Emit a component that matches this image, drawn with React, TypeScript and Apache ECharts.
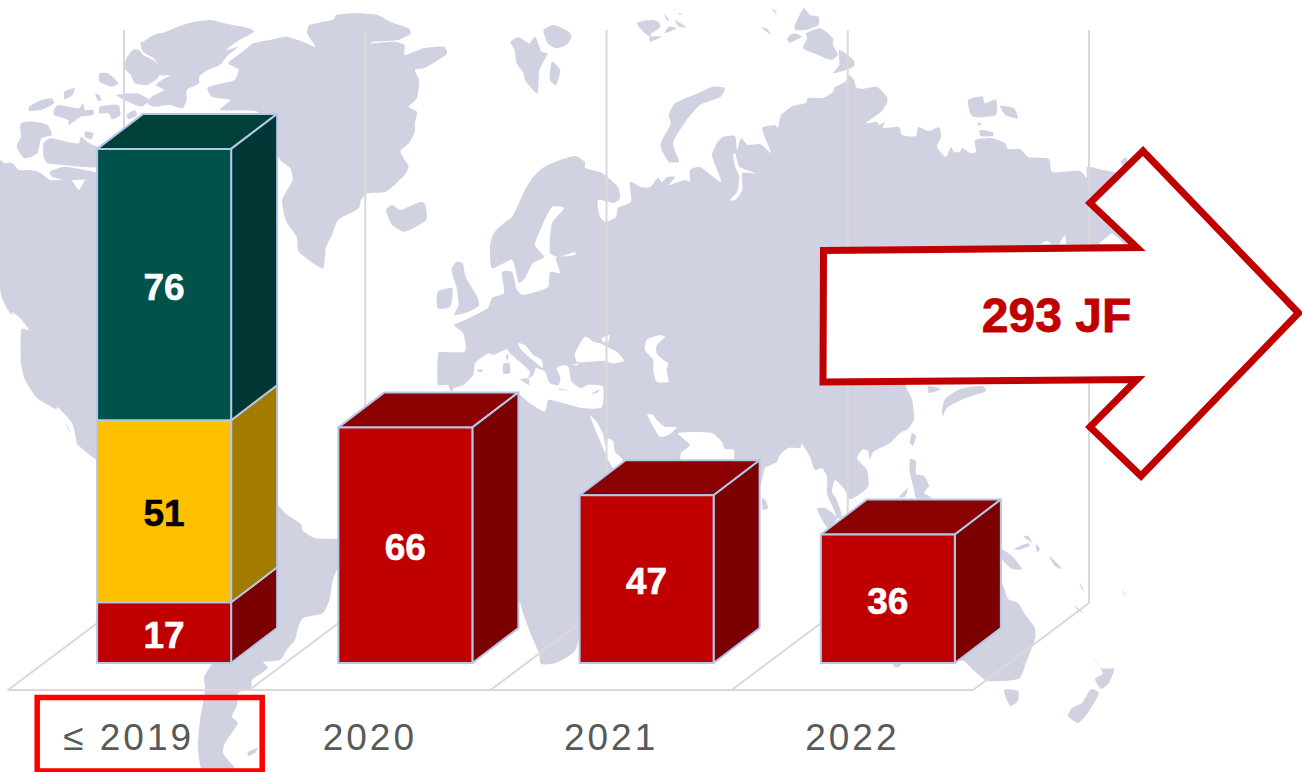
import React, { useEffect, useRef } from "react";
import * as echarts from "echarts";

// Filings per priority year
const categories = ["≤ 2019", "2020", "2021", "2022"];
const redValues = [17, 66, 47, 36];
const yellowValues = [51, 0, 0, 0];
const greenValues = [76, 0, 0, 0];
const totalLabel = "293 JF";

const FONT = '"Liberation Sans", Arial, sans-serif';
const LAND = "#D0D2E2";
const WALL = "#D9D9D9";
const EDGE = "#B4C7E7";

type Pt = number[];
const sheet = (ox: number, oy: number, sx: number, sy: number, pts: Pt[]): Pt[] =>
  pts.map(([x, y]) => [ox + x / sx, oy + y / sy]);
const west = (pts: Pt[]) => sheet(0, 0, 2.41, 3, pts);
const east = (pts: Pt[]) => sheet(650, 0, 2.405, 3, pts);
const midSea = (pts: Pt[]) => sheet(430, 320, 3, 3, pts);

// Eurasia and Africa as one outline; seas are cut out afterwards
const eurasiaAfrica: Pt[] = [
  [453, 392], [450, 390], [448, 385], [438, 385], [438, 353], [440, 352], [464, 352], [466, 347], [463, 333],
  [454, 325], [465, 320], [488, 308], [492, 298], [504, 293], [502, 272], [512, 272], [517, 290], [523, 295],
  [548, 287], [550, 272], [560, 273], [556, 258], [575, 255], [575, 252], [558, 257], [550, 253], [552, 223],
  [564, 208], [552, 207], [539, 233], [535, 245], [544, 257], [533, 263], [525, 278], [519, 283], [512, 260],
  [492, 268], [490, 245], [494, 233], [504, 223], [512, 217], [525, 190], [533, 177], [544, 167], [560, 160],
  [575, 156], [585, 162], [585, 168], [602, 173], [618, 187], [620, 198], [614, 203], [598, 200], [600, 217],
  [606, 222], [616, 217], [618, 208], [631, 202], [630, 182], [641, 187], [650, 187], [658, 178], [662, 182],
  [667, 177], [675, 177], [669, 185], [685, 180], [690, 182], [690, 170], [700, 167], [721, 182], [712, 155],
  [717, 143], [723, 137], [735, 136], [737, 150], [741, 138], [748, 145], [760, 144], [771, 153], [762, 128],
  [775, 125], [778, 128], [781, 115], [793, 106], [806, 103], [808, 98], [823, 98], [833, 92], [835, 87],
  [845, 82], [849, 75], [854, 80], [856, 87], [862, 89], [877, 87], [887, 97], [887, 103], [881, 112],
  [866, 123], [877, 122], [879, 125], [885, 122], [883, 128], [899, 127], [902, 135], [916, 136], [918, 127],
  [929, 131], [939, 127], [941, 137], [937, 147], [946, 157], [951, 147], [954, 152], [960, 152], [962, 148],
  [970, 153], [976, 152], [975, 140], [991, 138], [1005, 143], [1008, 149], [1020, 149], [1028, 157], [1049, 159],
  [1052, 172], [1080, 171], [1087, 178], [1087, 167], [1103, 170], [1120, 173], [1125, 175], [1125, 300],
  [906, 320], [906, 386], [912, 399], [914, 419], [908, 429], [900, 433], [890, 443], [873, 452], [870, 460],
  [868, 451], [863, 449], [857, 458], [867, 470], [868, 487], [852, 499], [848, 498], [845, 490], [835, 480],
  [832, 492], [836, 498], [842, 517], [837, 518], [835, 512], [828, 497], [827, 493], [827, 477], [822, 468],
  [815, 470], [810, 457], [802, 444], [800, 448], [788, 448], [780, 455], [777, 462], [765, 468], [762, 480],
  [758, 490], [740, 500], [734, 460], [734, 450], [725, 449], [722, 442], [712, 433], [678, 433], [690, 445],
  [681, 453], [680, 460], [650, 520], [600, 600], [582, 626], [575, 651], [556, 663], [541, 664], [539, 653],
  [531, 635], [523, 613], [518, 600], [472, 600],
];

const northAmerica: Pt[] = [
  [0, 160], [4, 163], [12, 163], [19, 170], [29, 170], [39, 172], [50, 180], [58, 180], [71, 180], [79, 190],
  [87, 177], [97, 177], [120, 300], [120, 520], [96, 460], [91, 456], [77, 444], [68, 429], [58, 411], [50, 406],
  [37, 398], [25, 380], [21, 363], [21, 330], [23, 328], [18, 318], [10, 313], [2, 298], [0, 287],
];

const southAmerica: Pt[] = [
  [278, 506], [286, 514], [301, 524], [303, 531], [315, 538], [336, 539], [345, 540], [345, 565], [337, 570],
  [332, 583], [330, 598], [323, 613], [303, 618], [298, 628], [295, 640], [288, 648], [280, 660], [263, 662],
  [268, 668], [252, 680], [251, 688], [238, 693], [237, 705], [232, 717], [238, 723], [225, 743], [223, 753],
  [235, 768], [237, 772], [203, 772], [198, 747], [200, 720], [203, 703], [205, 687], [204, 677], [212, 663],
  [230, 600], [260, 510],
];

const greenland: Pt[] = west([
  [810, 45], [860, 40], [910, 45], [940, 65], [985, 85], [990, 100], [960, 120], [900, 125], [890, 130], [950, 125],
  [975, 135], [975, 165], [1020, 145], [1070, 140], [1078, 160], [1050, 185], [1020, 205], [1000, 210], [1010, 240],
  [1005, 295], [985, 320], [1005, 335], [1000, 370], [1000, 395], [985, 430], [965, 455], [985, 500], [975, 525],
  [930, 575], [885, 580], [870, 600], [865, 625], [815, 660], [800, 705], [785, 745], [778, 805], [720, 755],
  [715, 710], [690, 665], [680, 600], [705, 540], [700, 505], [675, 480], [650, 400], [620, 335], [530, 330],
  [555, 300], [510, 290], [500, 262], [565, 240], [575, 208], [550, 190], [590, 150], [610, 130], [650, 120],
  [690, 110], [730, 125], [760, 140], [740, 100], [745, 75], [770, 68], [805, 58],
]);

const westIslands: Pt[][] = [
  // Arctic archipelago
  [[345, 125], [370, 105], [400, 95], [440, 75], [470, 65], [510, 60], [540, 70], [600, 85], [612, 95], [570, 125], [545, 150], [575, 140], [550, 165], [530, 195], [500, 210], [480, 230], [480, 250], [450, 270], [450, 300], [440, 325], [410, 315], [370, 320], [355, 310], [365, 290], [395, 270], [375, 255], [390, 240], [410, 225], [385, 225], [375, 180], [345, 155], [338, 128]],
  [[320, 150], [335, 150], [345, 165], [375, 185], [385, 215], [380, 235], [355, 255], [325, 250], [315, 225], [300, 205], [305, 175]],
  [[240, 220], [260, 220], [285, 250], [270, 260], [240, 245]],
  [[280, 285], [330, 280], [360, 300], [340, 320], [300, 300]],
  [[155, 275], [180, 265], [175, 285], [155, 298]],
  [[230, 282], [240, 285], [244, 303], [235, 300]],
  [[240, 320], [285, 315], [290, 345], [270, 358], [262, 340], [240, 340]],
  [[305, 345], [325, 330], [330, 345], [310, 358]],
  [[70, 320], [100, 300], [125, 295], [130, 310], [100, 330], [70, 332]],
  [[130, 330], [140, 315], [190, 325], [200, 310], [205, 330], [225, 330], [225, 345], [195, 350], [165, 375], [165, 360], [130, 345]],
  [[50, 370], [85, 365], [115, 375], [125, 405], [100, 415], [90, 460], [60, 475], [40, 440], [50, 410]],
  [[105, 430], [120, 415], [160, 425], [190, 430], [195, 410], [215, 430], [240, 445], [240, 500], [150, 495], [115, 490], [105, 470]],
  [[205, 395], [225, 400], [220, 418], [205, 412]],
  [[120, 515], [155, 500], [240, 520], [240, 535], [160, 540], [125, 530]],
  // Iceland
  [[930, 630], [945, 615], [965, 630], [985, 620], [1015, 605], [1025, 615], [1027, 660], [975, 695], [945, 675], [935, 650]],
  // Svalbard
  [[1230, 125], [1250, 112], [1275, 130], [1290, 110], [1305, 155], [1320, 160], [1300, 210], [1295, 280], [1265, 240], [1262, 220], [1245, 190], [1240, 150]],
  [[1310, 90], [1335, 75], [1370, 95], [1378, 110], [1365, 135], [1340, 145], [1320, 130]],
  [[1330, 185], [1350, 210], [1340, 255], [1325, 240]],
  [[1535, 70], [1565, 62], [1568, 110], [1550, 95]],
  // British Isles
  [[1100, 785], [1115, 790], [1122, 830], [1150, 890], [1155, 915], [1130, 935], [1095, 945], [1105, 915], [1100, 860], [1088, 810]],
  [[1055, 875], [1090, 865], [1085, 920], [1055, 925]],
];

const eastIslands: Pt[][] = [
  [[25, 435], [50, 370], [45, 345], [60, 310], [115, 280], [150, 260], [180, 265], [170, 290], [120, 315], [85, 365], [55, 430], [70, 485], [45, 485]],
  [[0, 60], [20, 65], [25, 80], [10, 95], [0, 100]],
  [[45, 80], [65, 85], [35, 100]],
  [[60, 60], [88, 82], [70, 80]],
  [[0, 110], [28, 110], [0, 125]],
  [[35, 42], [47, 62], [40, 60]],
  [[70, 38], [78, 44], [70, 44]],
  [[370, 25], [385, 45], [405, 50], [405, 75], [375, 90], [350, 90], [347, 80]],
  [[330, 115], [345, 100], [365, 110], [335, 128]],
  [[268, 82], [280, 85], [292, 105]],
  [[292, 25], [300, 30], [305, 45]],
  [[375, 100], [410, 85], [440, 115], [440, 135], [452, 165], [435, 180], [405, 165], [368, 145], [378, 115]],
  [[455, 150], [490, 180], [490, 200], [440, 220], [455, 195]],
  [[765, 300], [800, 290], [805, 310], [832, 298], [832, 345], [780, 352], [770, 340]],
  [[842, 318], [875, 325], [885, 355], [855, 345]],
  [[790, 365], [798, 375], [788, 375]],
  [[793, 390], [825, 397], [825, 408], [795, 408]],
  [[1132, 485], [1145, 472], [1150, 490], [1140, 500]],
];

// Pacific, South-East Asia and the southern oceans
const pacificIslands: Pt[][] = [
  [[928, 386], [929, 393], [941, 389]],
  [[945, 399], [960, 389], [983, 386], [986, 391], [966, 398], [953, 404], [946, 409], [943, 416], [942, 411]],
  [[912, 433], [916, 436], [913, 446], [910, 443]],
  [[910, 459], [916, 461], [916, 474], [924, 476], [929, 486], [924, 493], [932, 498], [916, 498], [914, 489], [910, 474]],
  [[899, 497], [908, 488], [905, 497]],
  [[817, 509], [825, 508], [837, 518], [828, 528]],
  [[762, 498], [766, 501], [768, 508], [763, 510]],
  [[1001, 549], [1012, 556], [1022, 569], [1012, 569], [1001, 558]],
  [[1014, 549], [1028, 543], [1030, 546], [1018, 550]],
  [[1023, 536], [1028, 536], [1032, 543]],
  [[1036, 544], [1040, 549], [1037, 552]],
  [[1049, 556], [1055, 561], [1062, 569], [1055, 566]],
  [[1080, 583], [1084, 591], [1081, 588]],
  [[1122, 589], [1127, 597], [1124, 594]],
  [[1074, 605], [1084, 613], [1078, 610]],
  [[1001, 583], [1008, 599], [1018, 603], [1024, 613], [1035, 628], [1035, 639], [1026, 663], [1020, 678], [1005, 681], [997, 681], [987, 681], [972, 669], [964, 661], [954, 661], [930, 600]],
  [[893, 664], [901, 664], [899, 667], [895, 667]],
  [[1004, 690], [1018, 691], [1018, 701], [1010, 706]],
  [[1091, 654], [1101, 668], [1114, 669], [1109, 683], [1101, 689], [1095, 679], [1103, 673]],
  [[1091, 689], [1099, 693], [1087, 714], [1078, 723], [1068, 716], [1072, 708], [1082, 703]],
  [[248, 752], [258, 748], [255, 753], [248, 756]],
];

// Inland and marginal seas laid over the continents
const seas: Pt[][] = [
  midSea([[70, 216], [70, 205], [100, 195], [130, 165], [135, 130], [175, 100], [190, 105], [230, 88], [240, 100], [300, 155], [295, 175], [310, 165], [318, 145], [345, 155], [360, 190], [385, 195], [392, 175], [380, 145], [400, 135], [415, 140], [425, 185], [455, 205], [470, 195], [500, 195], [520, 200], [515, 262], [460, 265], [400, 250], [355, 240], [345, 275], [300, 250], [265, 220], [265, 216]]),
  midSea([[265, 70], [285, 75], [310, 105], [335, 120], [338, 145], [320, 130], [290, 105], [270, 85]]),
  midSea([[465, 50], [490, 65], [510, 70], [530, 80], [560, 95], [582, 122], [550, 130], [520, 122], [480, 125], [440, 125], [435, 100]]),
  midSea([[515, 55], [538, 45], [535, 65], [518, 65]]),
  midSea([[428, 135], [445, 130], [442, 136]]),
  midSea([[650, 60], [690, 45], [705, 50], [680, 75], [680, 100], [700, 120], [715, 130], [710, 150], [715, 185], [680, 185], [670, 150], [670, 120], [645, 90]]),
  midSea([[652, 283], [670, 285], [680, 300], [705, 320], [740, 322], [715, 345], [690, 350], [670, 320]]),
  midSea([[480, 288], [500, 305], [520, 345], [526, 375], [535, 355], [550, 365], [555, 395], [578, 420], [552, 447], [535, 420]]),
  east([[205, 460], [215, 500], [255, 520], [222, 520], [222, 570], [205, 600], [192, 600], [210, 575], [215, 530], [205, 500], [200, 465]]),
  east([[940, 732], [955, 722], [965, 732]]),
  east([[985, 732], [998, 705], [1000, 732]]),
  east([[1080, 732], [1105, 705], [1110, 700], [1140, 732]]),
  // Gulf of California
  [[57, 407], [72, 423], [77, 445], [74, 443], [68, 427], [58, 417]],
  // Strait of Georgia inlet
  [[12, 312], [20, 318], [29, 330], [22, 328], [17, 322]],
];

// Islands that sit inside the seas
const seaIslands: Pt[][] = [
  midSea([[220, 132], [238, 130], [240, 160], [220, 160]]),
  midSea([[228, 105], [236, 105], [232, 125]]),
  midSea([[140, 150], [160, 150], [150, 157]]),
  midSea([[270, 178], [295, 175], [298, 195]]),
  midSea([[385, 205], [415, 212], [390, 210]]),
  midSea([[485, 220], [510, 208], [500, 220]]),
];

const land = (pts: Pt[], fill: string = LAND) => ({
  type: "polygon",
  silent: true,
  z: 0,
  shape: { points: pts, smooth: 0.2 },
  style: { fill, stroke: "none" },
});

// Box drawn as a front face plus receding top and side
const FACE_WIDTH = 134;
const DEPTH_X = 46;
const DEPTH_Y = 35;
const INSET_X = 35.5;
const INSET_Y = 27;

const boxRenderer = (front: string, side: string, top: string, labelColor: string) => (params: any, api: any) => {
  const i = api.value(0);
  const from = api.coord([i, api.value(1)]);
  const to = api.coord([i, api.value(2)]);
  const l = from[0] + INSET_X - FACE_WIDTH / 2;
  const r = l + FACE_WIDTH;
  const b = from[1] - INSET_Y;
  const t = to[1] - INSET_Y;
  const edge = { stroke: EDGE, lineWidth: 2, lineJoin: "round" };
  return {
    type: "group",
    children: [
      { type: "polygon", shape: { points: [[l, t], [l + DEPTH_X, t - DEPTH_Y], [r + DEPTH_X, t - DEPTH_Y], [r, t]] }, style: { fill: top, ...edge } },
      { type: "polygon", shape: { points: [[r, t], [r + DEPTH_X, t - DEPTH_Y], [r + DEPTH_X, b - DEPTH_Y], [r, b]] }, style: { fill: side, ...edge } },
      { type: "rect", shape: { x: l, y: t, width: FACE_WIDTH, height: b - t }, style: { fill: front, ...edge } },
      {
        type: "text",
        style: {
          text: String(api.value(2) - api.value(1)),
          x: (l + r) / 2,
          y: (t + b) / 2 + 2.5,
          fill: labelColor,
          stroke: labelColor,
          lineWidth: 0.6,
          fontFamily: FONT,
          fontWeight: "bold",
          fontSize: 37,
          align: "center",
          verticalAlign: "middle",
        },
      },
    ],
  };
};

const stackSeries = (name: string, values: number[], under: number[], colors: string[]) => ({
  type: "custom",
  name,
  coordinateSystem: "cartesian2d",
  clip: false,
  z: 3,
  encode: { x: 0, y: [1, 2] },
  renderItem: boxRenderer(colors[0], colors[1], colors[2], colors[3]),
  data: values
    .map((v, i) => [i, under[i], under[i] + v])
    .filter((d) => d[2] > d[1]),
});

// Floor diagonals and back-wall verticals at each band edge
const renderWalls = (params: any, api: any) => {
  const sys = params.coordSys;
  const x0 = sys.x + (api.value(0) * sys.width) / categories.length;
  const yFloor = sys.y + sys.height;
  const backX = x0 + 116;
  const backY = yFloor - 87;
  return {
    type: "polyline",
    shape: { points: [[x0, yFloor], [backX, backY], [backX, 30]] },
    style: { fill: "none", stroke: WALL, lineWidth: 2 },
  };
};

export default function App() {
  const ref = useRef<HTMLDivElement>(null);

  useEffect(() => {
    document.body.style.margin = "0";
    const chart = echarts.init(ref.current!, undefined, { renderer: "svg" });
    const yellowBase = redValues;
    const greenBase = redValues.map((v, i) => v + yellowValues[i]);
    chart.setOption({
      animation: false,
      backgroundColor: "#FFFFFF",
      grid: { left: 8, width: 965, top: 154.5, height: 535.5 },
      xAxis: {
        type: "category",
        data: categories,
        axisTick: { show: false },
        axisLine: { lineStyle: { color: WALL, width: 2 } },
        axisLabel: { color: "#595959", fontFamily: FONT, fontSize: 37, margin: 29, interval: 0 },
      },
      yAxis: { type: "value", min: 0, max: 150, show: false, splitLine: { show: false } },
      graphic: {
        elements: [
          land(northAmerica),
          land(southAmerica),
          land(greenland),
          land(eurasiaAfrica),
          ...westIslands.map((p) => land(west(p))),
          ...eastIslands.map((p) => land(east(p))),
          ...pacificIslands.map((p) => land(p)),
          ...seas.map((p) => land(p, "#FFFFFF")),
          ...seaIslands.map((p) => land(p)),
          {
            type: "rect",
            z: 20,
            silent: true,
            shape: { x: 37.2, y: 697.4, width: 225, height: 73.6 },
            style: { fill: "none", stroke: "#FF0000", lineWidth: 5.5 },
          },
          {
            type: "polygon",
            z: 20,
            silent: true,
            shape: {
              points: [[823.5, 250.5], [1137, 247.5], [1090, 203], [1143, 151], [1298.5, 313], [1141, 476], [1090, 427], [1137, 379.5], [823, 382]],
            },
            style: { fill: "#FFFFFF", stroke: "#C00000", lineWidth: 7, lineJoin: "miter", miterLimit: 10 },
          },
          {
            type: "text",
            z: 21,
            silent: true,
            x: 1056.5,
            y: 315,
            style: {
              text: totalLabel,
              fill: "#C00000",
              stroke: "#C00000",
              lineWidth: 0.8,
              fontFamily: FONT,
              fontWeight: "bold",
              fontSize: 48,
              align: "center",
              verticalAlign: "middle",
            },
          },
        ],
      },
      series: [
        {
          type: "custom",
          name: "walls",
          coordinateSystem: "cartesian2d",
          clip: false,
          silent: true,
          z: 1,
          encode: { x: 0 },
          renderItem: renderWalls,
          data: [[0], [1], [2], [3], [4]],
        },
        stackSeries("red", redValues, redValues.map(() => 0), ["#C00000", "#7B0000", "#8B0000", "#FFFFFF"]),
        stackSeries("yellow", yellowValues, yellowBase, ["#FFC000", "#A37B00", "#A37B00", "#000000"]),
        stackSeries("green", greenValues, greenBase, ["#00524A", "#003633", "#00403A", "#FFFFFF"]),
      ],
    });
    return () => chart.dispose();
  }, []);

  return (
    <>
      <style>{`#chart-area svg text[fill="#595959"] { letter-spacing: 3px; }`}</style>
      <div id="chart-area" ref={ref} style={{ width: 1302, height: 772, overflow: "hidden" }} />
    </>
  );
}
